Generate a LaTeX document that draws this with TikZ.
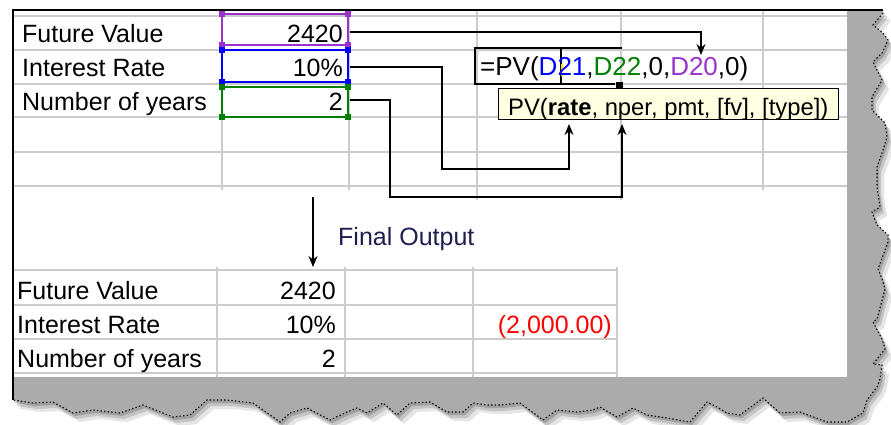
\documentclass[tikz,border=0pt]{standalone}
\usepackage{fontspec}
\setmainfont{Liberation Sans}
\usetikzlibrary{arrows.meta}
\definecolor{gridc}{HTML}{CCCCCC}
\definecolor{shadowgray}{HTML}{ABABAB}
\definecolor{xlpurple}{HTML}{9933CC}
\definecolor{xlblue}{HTML}{0000FF}
\definecolor{xlgreen}{HTML}{008000}
\definecolor{tipfill}{HTML}{FFFFE1}
\definecolor{outnavy}{HTML}{1E1E50}
\newcommand\tornedgepath{(883,13) -- (873,25) -- (883,33) -- (888,40) -- (882,53) -- (873,62) -- (882,80) -- (872,97) -- (872,110) -- (885,123) -- (887,137) -- (883,150) -- (877,167) -- (877,187) -- (880,207) -- (872,212) -- (877,225) -- (888,235) -- (888,242) -- (878,269) -- (882,279) -- (885,289) -- (877,319) -- (873,322) -- (882,339) -- (885,349) -- (877,359) -- (873,364) -- (882,365) -- (880,379) -- (877,387) -- (867,400) -- (863,413) -- (847,422) -- (827,422) -- (800,412) -- (780,413) -- (763,398) -- (740,415) -- (727,413) -- (717,407) -- (707,402) -- (690,422) -- (667,418) -- (647,415) -- (633,408) -- (617,417) -- (600,407) -- (593,410) -- (577,412) -- (557,410) -- (543,420) -- (520,403) -- (500,405) -- (487,405) -- (473,403) -- (463,412) -- (447,412) -- (430,402) -- (410,403) -- (397,415) -- (383,403) -- (367,413) -- (357,408) -- (347,412) -- (330,420) -- (307,408) -- (290,413) -- (280,422) -- (253,403) -- (227,400) -- (207,400) -- (190,415) -- (173,417) -- (143,405) -- (120,413) -- (93,410) -- (73,413) -- (53,402) -- (33,403) -- (13,400)}
\tikzset{
  cell/.style={inner sep=0pt, font=\fontsize{25}{28}\selectfont},
  lbl/.style={cell, anchor=base west},
  val/.style={cell, anchor=base east},
  grid/.style={draw=gridc, line width=1.2pt},
  conn/.style={draw=black, line width=1.4pt},
  arr/.style={conn, -{Stealth[length=11pt,width=9pt]}},
  rangebox/.style={line width=1.3pt},
  sel/.style={line width=2.8pt, line cap=butt},
}
\begin{document}
\begin{tikzpicture}[x=1pt,y=-1pt]
\useasboundingbox (0,0) rectangle (891,424);
\fill[white] (0,0) rectangle (891,424);
% soft shadow beyond the torn edge
\fill[black, opacity=0.10, shift={(7,9)}] (13,10) -- (883,10) -- \tornedgepath -- cycle;
\fill[black, opacity=0.14, shift={(4,6)}] (13,10) -- (883,10) -- \tornedgepath -- cycle;
\fill[black, opacity=0.18, shift={(2,3)}] (13,10) -- (883,10) -- \tornedgepath -- cycle;
% screenshot body
\fill[shadowgray] (13,10) -- (883,10) -- \tornedgepath -- cycle;
\fill[white] (13,11) rectangle (847,377);
\draw[black, line width=1.1pt, dash pattern=on 1.4pt off 2.2pt] \tornedgepath;
\draw[black, line width=2pt] (13,400) -- (13,10) -- (883,10);

% top grid
\foreach \yy in {16,50,84,117,152,186} \draw[grid] (14,\yy) -- (847,\yy);
\foreach \xx in {222,349,763} \draw[grid] (\xx,11) -- (\xx,190);
\foreach \xx in {477,621} \draw[grid] (\xx,11) -- (\xx,200);

% bottom grid
\foreach \yy in {270,305,339,373} \draw[grid] (14,\yy) -- (617,\yy);
\foreach \xx in {217,345,473,617} \draw[grid] (\xx,267) -- (\xx,377);

% colored range boxes
\draw[rangebox, xlpurple] (222,14) rectangle (348,45);
\draw[rangebox, xlblue] (222,50) rectangle (348,82);
\draw[rangebox, xlgreen] (222,87) rectangle (348,117);
\foreach \yy in {14,45} \foreach \xx in {222,348} \fill[xlpurple] (\xx-3,\yy-3) rectangle (\xx+3,\yy+3);
\foreach \yy in {50,82} \foreach \xx in {222,348} \fill[xlblue] (\xx-3,\yy-3) rectangle (\xx+3,\yy+3);
\foreach \yy in {87,117} \foreach \xx in {222,348} \fill[xlgreen] (\xx-3,\yy-3) rectangle (\xx+3,\yy+3);

% top table text
\node[lbl] (fvL) at (22,42) {Future Value};
\node[lbl] (irL) at (22,76) {Interest Rate};
\node[lbl] (nyL) at (22,110) {Number of years};
\node[val] (fvV) at (343,42) {2420};
\node[val] (irV) at (343,76) {10\%};
\node[val] (nyV) at (343,110) {2};

% active cell selection border
\draw[sel] (475,48) -- (622,48);
\draw[sel] (475,84) -- (615,84);
\draw[sel] (475,46.6) -- (475,85.4);
\draw[sel] (561,48) -- (561,84);
\draw[yellow!90!orange, line width=1.2pt] (562,64) -- (562,76);
\fill[black] (616,82) rectangle (623,90);

% formula
\node[lbl, font=\fontsize{26}{28}\selectfont] (formula) at (480,75) {=PV(\textcolor{xlblue}{D21},\textcolor{xlgreen}{D22},0,\textcolor{xlpurple}{D20},0)};

% tooltip
\node[draw=black, line width=1pt, fill=tipfill, minimum width=340pt, minimum height=31pt, inner sep=0pt, anchor=north west] (tip) at (498,88) {};
\node[inner sep=0pt, anchor=base west, font=\fontsize{23.8}{26}\selectfont] (tipT) at (508,115) {PV(\textbf{rate}, nper, pmt, [fv], [type])};

% connector anchor points
\coordinate (s1) at (350,32);
\coordinate (s2) at (350,67);
\coordinate (s3) at (350,100);
\coordinate (e1) at (701,55);
\coordinate (e2) at (569,124);
\coordinate (e3) at (622,124);
\draw[arr] (s1) -- (701,32) -- (e1);
\draw[arr] (s2) -- (442,67) -- (442,169) -- (569,169) -- (e2);
\draw[arr] (s3) -- (390,100) -- (390,197) -- (622,197) -- (e3);

% final output arrow
\coordinate (d1) at (313,197);
\coordinate (d2) at (313,267);
\draw[arr] (d1) -- (d2);
\node[lbl, text=outnavy] (final) at (338,245) {Final Output};

% bottom table text
\node[lbl] (fvL2) at (17,299) {Future Value};
\node[lbl] (irL2) at (17,333) {Interest Rate};
\node[lbl] (nyL2) at (17,367) {Number of years};
\node[val] (fvV2) at (336,299) {2420};
\node[val] (irV2) at (336,333) {10\%};
\node[val] (nyV2) at (336,367) {2};
\node[val, text=red] (pv) at (612,333) {(2,000.00)};
\end{tikzpicture}
\end{document}
